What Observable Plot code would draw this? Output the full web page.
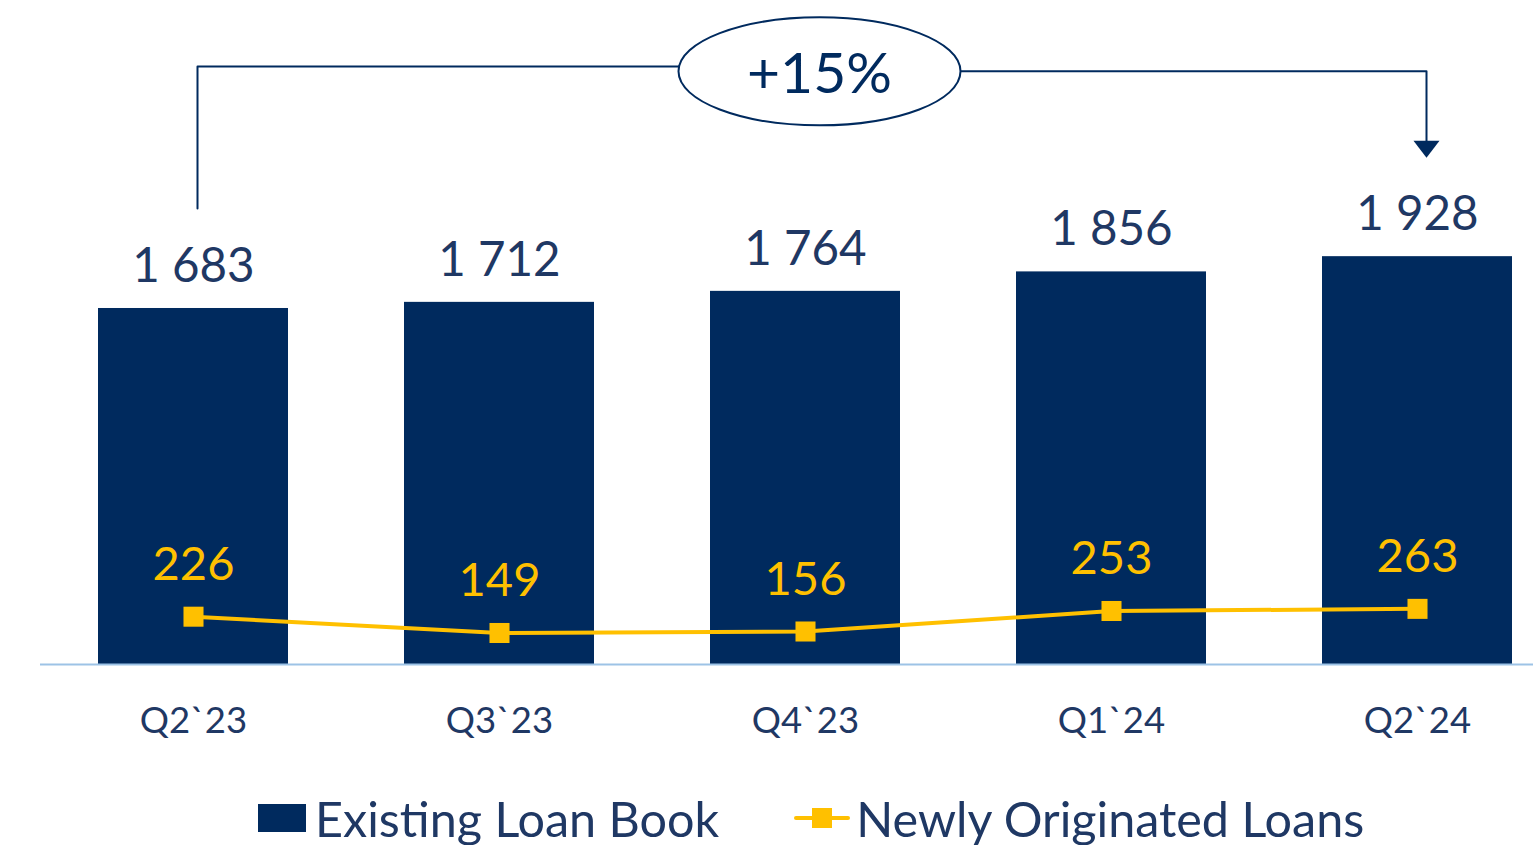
<!DOCTYPE html>
<html>
<head>
<meta charset="utf-8">
<script src="https://cdn.jsdelivr.net/npm/d3@7"></script>
<script src="https://cdn.jsdelivr.net/npm/@observablehq/plot@0.6"></script>
<style>
  html, body { margin: 0; padding: 0; background: #fff; }
  body { width: 1533px; height: 845px; overflow: hidden; font-family: Lato, "Noto Sans", sans-serif; }
  #legend { display: flex; align-items: center; height: 86px; margin-left: 258px; color: #1F3864; font-size: 48.5px; }
  .item { display: flex; align-items: center; }
  .item svg { display: block; }
</style>
</head>
<body>
<div id="chart"></div>
<div id="legend"></div>
<script>
// ---- data ----
const quarters = ["Q2`23", "Q3`23", "Q4`23", "Q1`24", "Q2`24"];
const existingLoanBook = [1683, 1712, 1764, 1856, 1928];
const newlyOriginatedLoans = [226, 149, 156, 253, 263];
const seriesNames = ["Existing Loan Book", "Newly Originated Loans"];
const growthLabel = "+15%";
// annotation bracket levels (value units)
const bracketLeft = [{q: "Q2`23", v: 2156}, {q: "Q2`23", v: 2827}, {q: "Q4`23", v: 2827}];
const bracketRight = [{q: "Q4`23", v: 2804}, {q: "Q2`24", v: 2804}, {q: "Q2`24", v: 2468}];
const arrowHead = [{q: "Q2`24", v: 2436}];
const badge = [{q: "Q4`23", v: 2804, label: growthLabel}];

const NAVY = "#002A5E";
const TEXT = "#1F3864";
const YELLOW = "#FFC000";

const rows = quarters.map((q, i) => ({q, book: existingLoanBook[i], newly: newlyOriginatedLoans[i]}));
const fmt = d3.formatLocale({decimal: ".", thousands: " ", grouping: [3], currency: ["", ""]}).format(",d");

const ellipseSymbol = {
  draw(ctx) {
    const rx = 141, ry = 54, k = 0.5523;
    ctx.moveTo(-rx, 0);
    ctx.bezierCurveTo(-rx, -ry * k, -rx * k, -ry, 0, -ry);
    ctx.bezierCurveTo(rx * k, -ry, rx, -ry * k, rx, 0);
    ctx.bezierCurveTo(rx, ry * k, rx * k, ry, 0, ry);
    ctx.bezierCurveTo(-rx * k, ry, -rx, ry * k, -rx, 0);
    ctx.closePath();
  }
};
const downTriangle = {
  draw(ctx) {
    ctx.moveTo(-13, -8.5);
    ctx.lineTo(13, -8.5);
    ctx.lineTo(0, 8.5);
    ctx.closePath();
  }
};

const chart = Plot.plot({
  width: 1533,
  height: 775,
  marginTop: 0,
  marginLeft: 40,
  marginRight: 0,
  marginBottom: 111,
  style: {fontFamily: "Lato, 'Noto Sans', sans-serif", background: "#fff"},
  x: {domain: quarters, range: [98, 1512], paddingInner: 0.38, paddingOuter: 0, label: null},
  y: {domain: [0, 3139], axis: null},
  marks: [
    Plot.barY(rows, {x: "q", y: "book", fill: NAVY}),
    Plot.ruleY([0], {stroke: "#9DC3E6", strokeWidth: 2}),
    Plot.text(rows, {x: "q", y: "book", text: d => fmt(d.book), dy: -42, fontSize: 47.5, fill: TEXT}),
    Plot.line(rows, {x: "q", y: "newly", stroke: YELLOW, strokeWidth: 4}),
    Plot.dot(rows, {x: "q", y: "newly", symbol: "square", r: 11.3, fill: YELLOW, stroke: "none"}),
    Plot.text(rows, {x: "q", y: "newly", text: d => String(d.newly), dy: -52, fontSize: 47, fill: YELLOW}),
    Plot.axisX({tickSize: 0, tickPadding: 43, fontSize: 36.5, color: TEXT, label: null}),
    // growth bracket
    Plot.line(bracketLeft, {x: "q", y: "v", dx: 4, stroke: NAVY, strokeWidth: 2}),
    Plot.line(bracketRight, {x: "q", y: "v", dx: 9, stroke: NAVY, strokeWidth: 2}),
    Plot.dot(arrowHead, {x: "q", y: "v", dx: 9, symbol: downTriangle, r: 5, fill: NAVY, stroke: "none"}),
    Plot.dot(badge, {x: "q", y: "v", dx: 14, symbol: ellipseSymbol, r: 5, fill: "#fff", stroke: NAVY, strokeWidth: 2}),
    Plot.text(badge, {x: "q", y: "v", dx: 14, dy: 3, text: "label", fontSize: 57, fill: NAVY})
  ]
});
document.getElementById("chart").appendChild(chart);

// ---- legend ----
const legend = document.getElementById("legend");
legend.innerHTML =
  `<div class="item"><svg width="48" height="28"><rect width="48" height="28" fill="${NAVY}"/></svg>` +
  `<span style="margin-left:9px">${seriesNames[0]}</span></div>` +
  `<div class="item" style="margin-left:75px"><svg width="56" height="28"><line x1="2" x2="54" y1="14" y2="14" stroke="${YELLOW}" stroke-width="4" stroke-linecap="round"/><rect x="18" y="4" width="20" height="20" fill="${YELLOW}"/></svg>` +
  `<span style="margin-left:6px">${seriesNames[1]}</span></div>`;
</script>
</body>
</html>
